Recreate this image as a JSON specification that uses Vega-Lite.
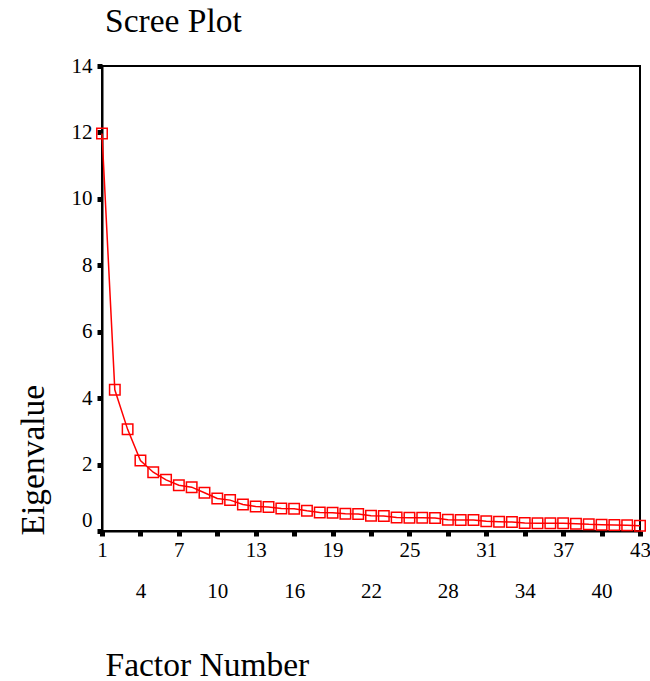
{
  "$schema": "https://vega.github.io/schema/vega-lite/v6.json",
  "autosize": {"type": "none"},
  "padding": {"left": 102, "top": 66, "right": 10, "bottom": 150},
  "width": 538,
  "height": 465,
  "background": "white",
  "title": {
    "text": "Scree Plot",
    "anchor": "start",
    "frame": "group",
    "dx": 3,
    "offset": -10,
    "baseline": "alphabetic",
    "font": "Liberation Serif",
    "fontSize": 33.5,
    "fontWeight": "normal",
    "color": "black"
  },
  "config": {
    "view": {"stroke": "black", "strokeWidth": 2},
    "axis": {
      "domainColor": "black",
      "domainWidth": 2,
      "tickColor": "black",
      "tickWidth": 5,
      "tickSize": 5,
      "grid": false,
      "labelFont": "Liberation Serif",
      "labelFontSize": 21,
      "labelColor": "black",
      "titleFont": "Liberation Serif",
      "titleFontSize": 33.5,
      "titleFontWeight": "normal",
      "titleColor": "black"
    }
  },
  "data": {
    "values": [
      {"factor": 1, "eigenvalue": 11.97},
      {"factor": 2, "eigenvalue": 4.25},
      {"factor": 3, "eigenvalue": 3.06},
      {"factor": 4, "eigenvalue": 2.12},
      {"factor": 5, "eigenvalue": 1.77},
      {"factor": 6, "eigenvalue": 1.54},
      {"factor": 7, "eigenvalue": 1.38},
      {"factor": 8, "eigenvalue": 1.32},
      {"factor": 9, "eigenvalue": 1.15},
      {"factor": 10, "eigenvalue": 0.98},
      {"factor": 11, "eigenvalue": 0.93},
      {"factor": 12, "eigenvalue": 0.8},
      {"factor": 13, "eigenvalue": 0.74},
      {"factor": 14, "eigenvalue": 0.72},
      {"factor": 15, "eigenvalue": 0.68},
      {"factor": 16, "eigenvalue": 0.67},
      {"factor": 17, "eigenvalue": 0.61},
      {"factor": 18, "eigenvalue": 0.56},
      {"factor": 19, "eigenvalue": 0.55},
      {"factor": 20, "eigenvalue": 0.52},
      {"factor": 21, "eigenvalue": 0.51},
      {"factor": 22, "eigenvalue": 0.46},
      {"factor": 23, "eigenvalue": 0.45},
      {"factor": 24, "eigenvalue": 0.41},
      {"factor": 25, "eigenvalue": 0.4},
      {"factor": 26, "eigenvalue": 0.4},
      {"factor": 27, "eigenvalue": 0.39},
      {"factor": 28, "eigenvalue": 0.34},
      {"factor": 29, "eigenvalue": 0.33},
      {"factor": 30, "eigenvalue": 0.33},
      {"factor": 31, "eigenvalue": 0.29},
      {"factor": 32, "eigenvalue": 0.28},
      {"factor": 33, "eigenvalue": 0.27},
      {"factor": 34, "eigenvalue": 0.24},
      {"factor": 35, "eigenvalue": 0.23},
      {"factor": 36, "eigenvalue": 0.23},
      {"factor": 37, "eigenvalue": 0.23},
      {"factor": 38, "eigenvalue": 0.22},
      {"factor": 39, "eigenvalue": 0.2},
      {"factor": 40, "eigenvalue": 0.19},
      {"factor": 41, "eigenvalue": 0.18},
      {"factor": 42, "eigenvalue": 0.17},
      {"factor": 43, "eigenvalue": 0.16}
    ]
  },
  "encoding": {
    "x": {
      "field": "factor",
      "type": "quantitative",
      "scale": {"domain": [1, 43], "nice": false, "zero": false},
      "axis": {
        "values": [1, 4, 7, 10, 13, 16, 19, 22, 25, 28, 31, 34, 37, 40, 43],
        "labelPadding": {"condition": {"test": "datum.value % 6 == 4", "value": 44}, "value": 3},
        "labelFlush": false,
        "labelOverlap": false,
        "title": "Factor Number",
        "titleAnchor": "start",
        "titleAlign": "left",
        "titleBaseline": "alphabetic",
        "titleX": 3,
        "titleY": 144
      }
    },
    "y": {
      "field": "eigenvalue",
      "type": "quantitative",
      "scale": {"domain": [0, 14], "nice": false},
      "axis": {
        "values": [0, 2, 4, 6, 8, 10, 12, 14],
        "labelPadding": 5,
        "labelOffset": {"condition": {"test": "datum.value === 0", "value": -11}, "value": 0},
        "labelFlush": false,
        "labelOverlap": false,
        "title": "Eigenvalue",
        "titleAngle": 270,
        "titleAlign": "left",
        "titleBaseline": "alphabetic",
        "titleX": -59,
        "titleY": 469
      }
    }
  },
  "layer": [
    {"mark": {"type": "line", "color": "#ff0000", "strokeWidth": 1.5}},
    {"mark": {"type": "point", "shape": "square", "filled": false, "color": "#ff0000", "strokeWidth": 1.5, "size": 110, "opacity": 1}}
  ]
}
